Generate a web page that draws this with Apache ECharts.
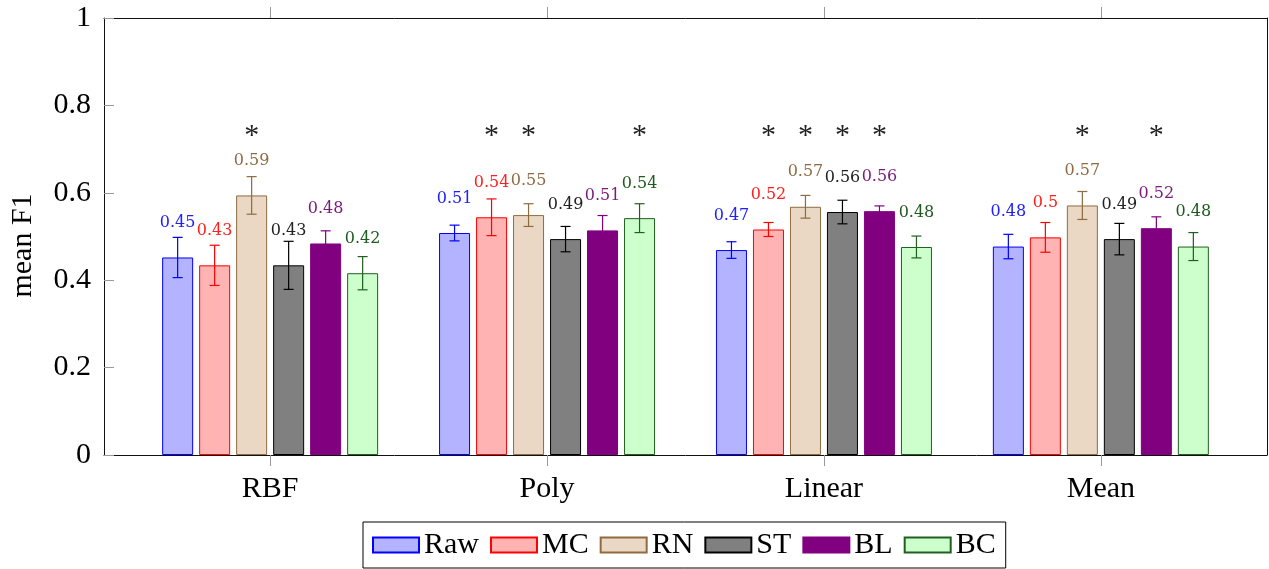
<!DOCTYPE html>
<html>
<head>
<meta charset="utf-8">
<script src="https://cdn.jsdelivr.net/npm/echarts@6/dist/echarts.min.js"></script>
<style>
html,body{margin:0;padding:0;background:#fff;}
#chart{width:1269px;height:569px;}
</style>
</head>
<body>
<div id="chart"></div>
<script>
// ---- data ----
var categories = ['RBF', 'Poly', 'Linear', 'Mean'];
var seriesNames = ['Raw', 'MC', 'RN', 'ST', 'BL', 'BC'];
var yTicks = [0, 0.2, 0.4, 0.6, 0.8, 1];

var rawMean = [0.452, 0.508, 0.469, 0.477];
var rawErr  = [0.046, 0.018, 0.019, 0.028];
var mcMean  = [0.434, 0.544, 0.516, 0.498];
var mcErr   = [0.046, 0.042, 0.016, 0.034];
var rnMean  = [0.594, 0.549, 0.568, 0.571];
var rnErr   = [0.043, 0.026, 0.026, 0.032];
var stMean  = [0.434, 0.494, 0.556, 0.494];
var stErr   = [0.055, 0.029, 0.027, 0.036];
var blMean  = [0.484, 0.514, 0.558, 0.519];
var blErr   = [0.029, 0.034, 0.012, 0.026];
var bcMean  = [0.416, 0.542, 0.476, 0.477];
var bcErr   = [0.038, 0.033, 0.025, 0.032];

// significance markers (1 = "*")
var rawStar = [0, 0, 0, 0];
var mcStar  = [0, 1, 1, 0];
var rnStar  = [1, 1, 1, 1];
var stStar  = [0, 0, 1, 0];
var blStar  = [0, 0, 1, 1];
var bcStar  = [0, 1, 0, 0];

// ---- styling ----
var SERIF = "'Liberation Serif', 'Times New Roman', serif";
var SMALL = "'DejaVu Serif', serif";
var fills   = ['#b3b3ff', '#ffb3b3', '#ead8c4', '#808080', '#800080', '#ccffcc'];
var strokes = ['#0000ff', '#ff0000', '#8f6b40', '#000000', '#800080', '#1f5f1f'];
var labelColors = ['#2020ff', '#ff2020', '#8f6b45', '#222222', '#7a1a7a', '#1f5a1f'];
var BAR_W = 31, PITCH = 37, STAR_LEVEL = 0.729;

var means = [rawMean, mcMean, rnMean, stMean, blMean, bcMean];
var errs = [rawErr, mcErr, rnErr, stErr, blErr, bcErr];
var stars = [rawStar, mcStar, rnStar, stStar, blStar, bcStar];

var series = [];
seriesNames.forEach(function (name, i) {
  series.push({
    name: name,
    type: 'bar',
    xAxisIndex: 0, yAxisIndex: 0,
    barWidth: BAR_W,
    barGap: ((PITCH - BAR_W) / BAR_W * 100).toFixed(2) + '%',
    itemStyle: { color: fills[i], borderColor: strokes[i], borderWidth: 1 },
    label: {
      show: true, position: 'top', distance: 26.5,
      fontFamily: SMALL, fontSize: 16, color: labelColors[i],
      formatter: function (p) { return String(Math.round(p.value[1] * 100) / 100); }
    },
    emphasis: { disabled: true },
    data: means[i].map(function (v, k) { return [k, v]; }),
    z: 2
  });
});
seriesNames.forEach(function (name, i) {
  var off = (i - (seriesNames.length - 1) / 2) * PITCH;
  series.push({
    name: 'err-' + name,
    type: 'custom',
    xAxisIndex: 0, yAxisIndex: 0,
    z: 5,
    silent: true,
    data: means[i].map(function (v, k) { return [k, v, errs[i][k], stars[i][k]]; }),
    encode: { x: 0, y: 1 },
    renderItem: function (params, api) {
      var x = api.value(0), v = api.value(1), e = api.value(2), s = api.value(3);
      var top = api.coord([x, v + e]);
      var bot = api.coord([x, v - e]);
      var cx = top[0] + off;
      var st = { stroke: strokes[i], lineWidth: 1.2 };
      var ch = [
        { type: 'line', shape: { x1: cx, y1: top[1], x2: cx, y2: bot[1] }, style: st },
        { type: 'line', shape: { x1: cx - 5, y1: top[1], x2: cx + 5, y2: top[1] }, style: st },
        { type: 'line', shape: { x1: cx - 5, y1: bot[1], x2: cx + 5, y2: bot[1] }, style: st }
      ];
      if (s) {
        var sp = api.coord([x, STAR_LEVEL]);
        ch.push({ type: 'text', x: cx, y: sp[1],
          style: { text: '*', fill: '#222', font: '30px ' + SERIF, align: 'center', verticalAlign: 'middle' } });
      }
      return { type: 'group', children: ch };
    }
  });
});

var catIdx = categories.map(function (c, k) { return k; });

var option = {
  animation: false,
  backgroundColor: '#fff',
  grid: { left: 103, right: 2, top: 18, bottom: 114, containLabel: false },
  legend: {
    data: seriesNames,
    left: 363, top: 522,
    orient: 'horizontal',
    icon: 'rect',
    itemWidth: 46, itemHeight: 15, itemGap: 11,
    padding: [8, 10, 8, 9],
    borderColor: '#000', borderWidth: 1,
    selectedMode: false,
    textStyle: { fontFamily: SERIF, fontSize: 30, color: '#000' }
  },
  xAxis: [
    {
      type: 'value', position: 'bottom', min: -0.6, max: 3.6,
      splitLine: { show: false },
      axisLine: { show: true, onZero: false, lineStyle: { color: '#111', width: 1 } },
      axisTick: { show: true, customValues: catIdx, inside: false, length: 11, lineStyle: { color: '#999', width: 1 } },
      axisLabel: {
        show: true, customValues: catIdx, margin: 19,
        fontFamily: SERIF, fontSize: 30, color: '#000',
        formatter: function (v) { return categories[Math.round(v)]; }
      }
    },
    {
      type: 'value', position: 'top', min: -0.6, max: 3.6,
      splitLine: { show: false },
      axisLine: { show: true, onZero: false, lineStyle: { color: '#111', width: 1 } },
      axisTick: { show: true, customValues: catIdx, inside: false, length: 11, lineStyle: { color: '#999', width: 1 } },
      axisLabel: { show: false }
    }
  ],
  yAxis: [
    {
      type: 'value', position: 'left', min: 0, max: 1, interval: 0.2,
      name: 'mean F1', nameLocation: 'middle', nameGap: 66, nameRotate: 90,
      nameTextStyle: { fontFamily: SERIF, fontSize: 30, color: '#000', padding: [0, 18, 0, 0] },
      splitLine: { show: false },
      axisLine: { show: true, onZero: false, lineStyle: { color: '#111', width: 1 } },
      axisTick: { show: true, inside: true, length: 10, lineStyle: { color: '#999', width: 1 } },
      axisLabel: {
        margin: 13, fontFamily: SERIF, fontSize: 30, color: '#000',
        formatter: function (v) { return String(Math.round(v * 10) / 10); }
      }
    },
    {
      type: 'value', position: 'right', min: 0, max: 1, interval: 0.2,
      splitLine: { show: false },
      axisLine: { show: true, onZero: false, lineStyle: { color: '#111', width: 1 } },
      axisTick: { show: false },
      axisLabel: { show: false }
    }
  ],
  series: series
};

var chart = echarts.init(document.getElementById('chart'), null, { renderer: 'canvas' });
chart.setOption(option);
</script>
</body>
</html>
